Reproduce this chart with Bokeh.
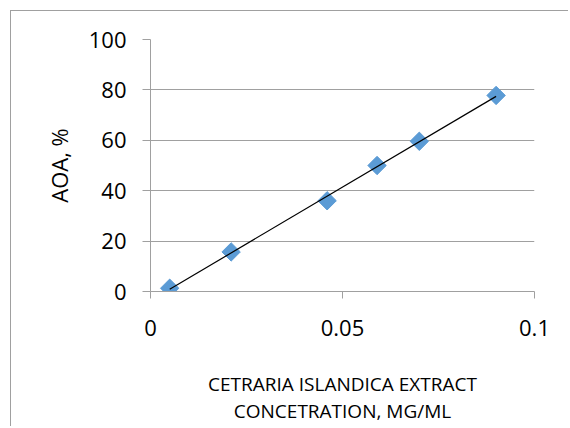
import numpy as np
from bokeh.plotting import figure
from bokeh.models import Range1d, FixedTicker
from bokeh.embed import file_html
from bokeh.resources import INLINE

conc = [0.005, 0.021, 0.046, 0.059, 0.070, 0.090]
aoa = [1.3, 15.7, 36.0, 50.0, 59.6, 77.8]
x_ticks = [0, 0.05, 0.1]
y_ticks = [0, 20, 40, 60, 80, 100]
x_title = ["CETRARIA ISLANDICA EXTRACT", "CONCETRATION, MG/ML"]

GRAY = "#a0a0a0"
FONT = "Open Sans"

p = figure(width=558, height=416, output_backend="svg", toolbar_location=None,
           x_range=Range1d(0, 0.1), y_range=Range1d(0, 100),
           min_border_left=139, min_border_right=35, min_border_top=28, min_border_bottom=136)
p.styles = {"margin-left": "10px", "margin-top": "10px",
            "border-left": "1px solid " + GRAY, "border-top": "1px solid " + GRAY}
p.outline_line_color = None
p.background_fill_color = "white"
p.border_fill_color = "white"

p.xgrid.visible = False
p.ygrid.grid_line_color = GRAY
p.ygrid.ticker = FixedTicker(ticks=y_ticks)

for ax in (p.xaxis[0], p.yaxis[0]):
    ax.axis_line_color = GRAY
    ax.major_tick_line_color = GRAY
    ax.minor_tick_line_color = None
    ax.major_tick_in = 0
    ax.major_tick_out = 8
    ax.major_label_text_font = FONT
    ax.major_label_text_font_size = "22px"
    ax.major_label_text_color = "black"
    ax.axis_label_text_font = FONT
    ax.axis_label_text_font_style = "normal"
    ax.axis_label_text_color = "black"

p.xaxis.ticker = FixedTicker(ticks=x_ticks)
p.yaxis.ticker = FixedTicker(ticks=y_ticks)
p.xaxis.major_label_overrides = {0: "0", 0.05: "0.05", 0.1: "0.1"}
p.xaxis.major_tick_out = 7
p.xaxis.major_label_standoff = 21
p.yaxis.major_label_standoff = 16

p.yaxis.axis_label = "AOA, %"
p.yaxis.axis_label_text_font_size = "22px"
p.yaxis.axis_label_standoff = 12

p.xaxis.axis_label = "\n".join(x_title)
p.xaxis.axis_label_text_font_size = "19px"
p.xaxis.axis_label_text_line_height = 1.05
p.xaxis.axis_label_standoff = 32

p.scatter(conc, aoa, marker="square", size=13, angle=np.pi / 4,
          fill_color="#5b9bd5", line_color="#5b9bd5")

k, b = np.polyfit(conc, aoa, 1)
xs = [min(conc), max(conc)]
p.line(xs, [k * v + b for v in xs], line_color="black", line_width=1.2)

open("out.html", "w").write(file_html(p, INLINE))
